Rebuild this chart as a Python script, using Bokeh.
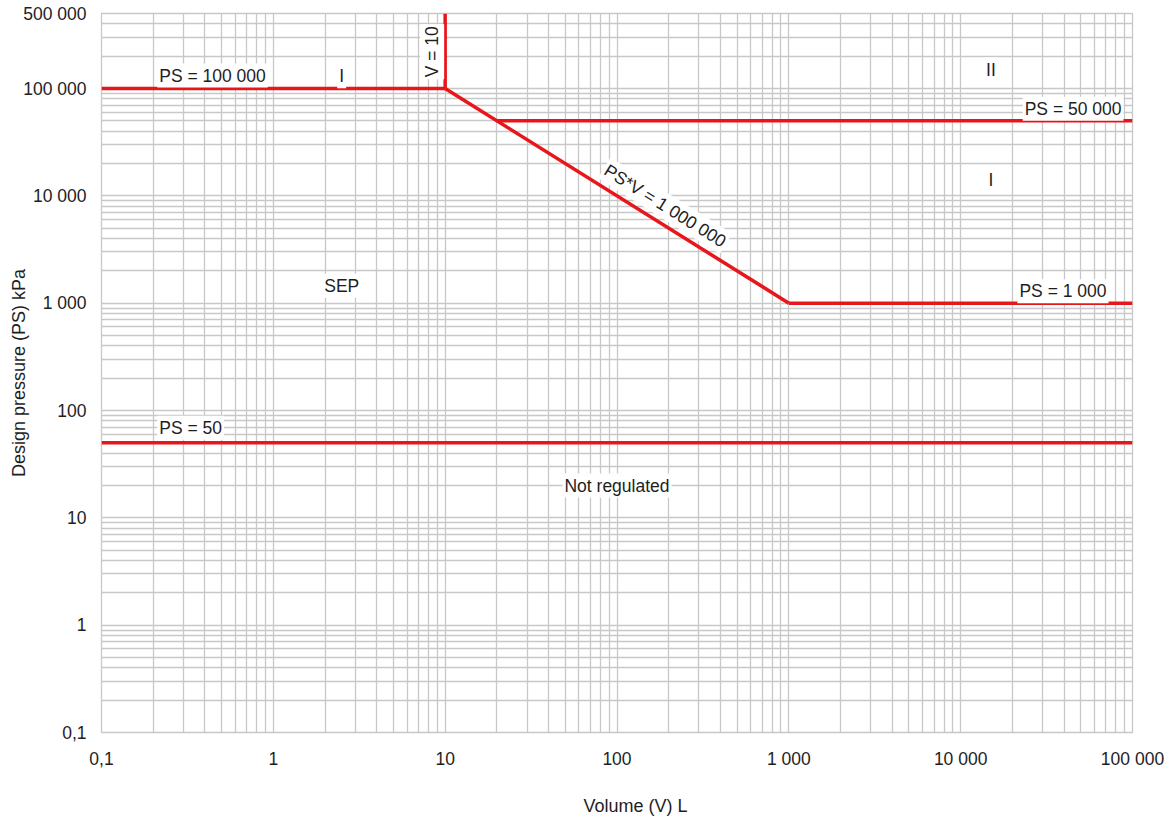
import math
from bokeh.plotting import figure
from bokeh.models import FixedTicker, CustomJSTickFormatter, Label, Title
from bokeh.embed import file_html
from bokeh.resources import INLINE

# ---------------- data ----------------
x_major = [0.1, 1, 10, 100, 1000, 10000, 100000]
y_major = [0.1, 1, 10, 100, 1000, 10000, 100000, 500000]

boundary_v = [[0.1, 10], [10, 10], [10, 1000], [20, 100000], [1000, 100000], [0.1, 100000]]
boundary_ps = [[100000, 100000], [100000, 500000], [100000, 1000], [50000, 50000], [1000, 1000], [50, 50]]

region_names = ["I", "II", "I", "SEP", "Not regulated"]
region_v = [2.5, 15000, 15000, 2.5, 100]
region_ps = [130000, 150000, 14000, 1450, 20]

line_names = ["PS = 100 000", "PS = 50", "PS = 50 000", "PS = 1 000"]
line_v = [0.2, 0.2, 100000, 100000]
line_ps = [100000, 50, 50000, 1000]

x_minor = [k * 10.0 ** d for d in range(-1, 5) for k in range(2, 10)]
y_minor = [k * 10.0 ** d for d in range(-1, 6) for k in range(2, 10) if k * 10.0 ** d < 500000]

FONT = "Liberation Sans"
FS = "17.5px"
FS_AX = "18px"
TXT = "#1e1e1e"
GRID = "#c8c8c8"
RED = "#e8161b"

FW, FH = 1031, 719
X0, X1 = 0.1, 100000
Y0, Y1 = 0.1, 500000

p = figure(x_axis_type="log", y_axis_type="log",
           x_range=(X0, X1), y_range=(Y0, Y1),
           frame_width=FW, frame_height=FH,
           min_border_left=101, min_border_right=37, min_border_top=13, min_border_bottom=90,
           output_backend="svg", toolbar_location=None)
p.background_fill_color = "white"
p.border_fill_color = "white"
p.outline_line_color = GRID
p.outline_line_width = 1.3

fmt = CustomJSTickFormatter(code=r"""
if (tick < 1) { return tick.toString().replace('.', ','); }
return Math.round(tick).toString().replace(/\B(?=(\d{3})+(?!\d))/g, ' ');
""")

p.xaxis.ticker = FixedTicker(ticks=x_major, minor_ticks=x_minor)
p.yaxis.ticker = FixedTicker(ticks=y_major, minor_ticks=y_minor)
p.xgrid.ticker = FixedTicker(ticks=x_major, minor_ticks=x_minor)
p.ygrid.ticker = FixedTicker(ticks=y_major, minor_ticks=y_minor)

for ax in (p.xaxis, p.yaxis):
    ax.formatter = fmt
    ax.axis_line_color = None
    ax.major_tick_line_color = None
    ax.minor_tick_line_color = None
    ax.major_tick_out = 0
    ax.minor_tick_out = 0
    ax.major_label_text_font = FONT
    ax.major_label_text_font_size = FS
    ax.major_label_text_color = TXT
    ax.axis_label_text_font = FONT
    ax.axis_label_text_font_size = FS_AX
    ax.axis_label_text_font_style = "normal"
    ax.axis_label_text_color = TXT

p.xaxis.major_label_standoff = 16
p.yaxis.major_label_standoff = 15
p.yaxis.axis_label = "Design pressure (PS) kPa"
p.yaxis.axis_label_standoff = -9

for g in (p.xgrid, p.ygrid):
    g.grid_line_color = GRID
    g.grid_line_width = 1.3
    g.minor_grid_line_color = GRID
    g.minor_grid_line_width = 1.3

p.add_layout(Title(text="Volume (V) L", align="left", offset=482, text_font=FONT,
                   text_font_size=FS_AX, text_font_style="normal", text_color=TXT,
                   standoff=45), "below")

p.multi_line(xs=boundary_v, ys=boundary_ps, line_color=RED, line_width=3.5, line_join="miter")

common = dict(text_font=FONT, text_font_size=FS, text_color=TXT,
              background_fill_color="white", padding=2)

for name, v, ps in zip(region_names, region_v, region_ps):
    p.add_layout(Label(x=v, y=ps, text=name, text_align="center", text_baseline="middle", **common))

# horizontal line labels
p.add_layout(Label(x=line_v[0], y=line_ps[0], text=line_names[0], text_align="left",
                   text_baseline="bottom", x_offset=4, y_offset=1, **common))
p.add_layout(Label(x=line_v[1], y=line_ps[1], text=line_names[1], text_align="left",
                   text_baseline="bottom", x_offset=4, y_offset=3, **common))
p.add_layout(Label(x=line_v[2], y=line_ps[2], text=line_names[2], text_align="right",
                   text_baseline="bottom", x_offset=-9, y_offset=0, **common))
p.add_layout(Label(x=line_v[3], y=line_ps[3], text=line_names[3], text_align="right",
                   text_baseline="bottom", x_offset=-24, y_offset=0, **common))

# vertical V = 10
p.add_layout(Label(x=10, y=220000, text="V = 10", angle=math.pi / 2, text_align="center",
                   text_baseline="bottom", x_offset=-1, **common))

# diagonal PS*V = 1 000 000
px_per_dec_x = FW / (math.log10(X1) - math.log10(X0))
px_per_dec_y = FH / (math.log10(Y1) - math.log10(Y0))
ang = -math.atan(px_per_dec_y / px_per_dec_x)
v_mid = 175
p.add_layout(Label(x=v_mid, y=1e6 / v_mid, text="PS*V = 1 000 000", angle=ang,
                   text_align="center", text_baseline="bottom", y_offset=6, **common))

open("out.html", "w").write(file_html(p, INLINE))
